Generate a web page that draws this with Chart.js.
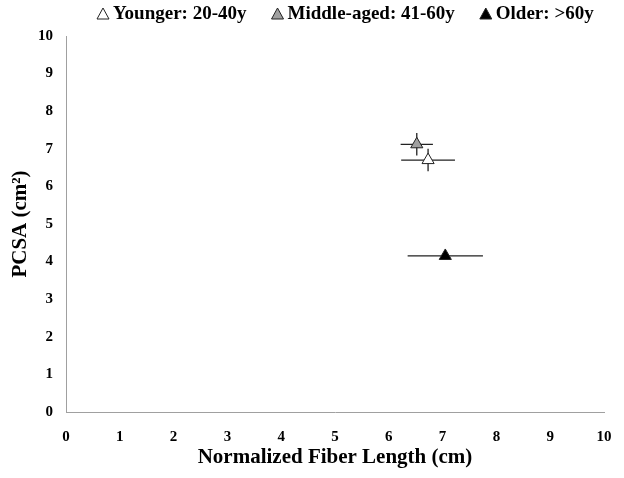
<!DOCTYPE html>
<html>
<head>
<meta charset="utf-8">
<script src="https://cdn.jsdelivr.net/npm/chart.js@4.4.0/dist/chart.umd.min.js"></script>
<style>
  html, body { margin: 0; padding: 0; background: #fff; }
  #wrap { width: 624px; height: 478px; position: relative; }
</style>
</head>
<body>
<div id="wrap"><canvas id="pcsaChart" width="624" height="478"></canvas></div>
<script>
// data
const groups = ['Younger: 20-40y', 'Middle-aged: 41-60y', 'Older: >60y'];
const fiberLength = [6.73, 6.52, 7.05];
const pcsa = [6.70, 7.12, 4.15];
const fiberErr = [0.50, 0.30, 0.70];
const pcsaErr = [0.30, 0.30, 0.08];
const fills = ['#ffffff', '#a0a0a0', '#000000'];
const axisTicks = [0, 1, 2, 3, 4, 5, 6, 7, 8, 9, 10];

const serif = '"Liberation Serif", "Times New Roman", serif';

// error bars drawn through the scales, behind the markers
const errorBars = {
    id: 'errorBars',
    beforeDatasetsDraw(chart) {
        const ctx = chart.ctx;
        const xs = chart.scales.x, ys = chart.scales.y;
        ctx.save();
        ctx.strokeStyle = '#222';
        ctx.lineWidth = 1.3;
        chart.data.datasets.forEach((ds, i) => {
            const p = ds.data[0];
            const cx = xs.getPixelForValue(p.x), cy = ys.getPixelForValue(p.y);
            ctx.beginPath();
            ctx.moveTo(xs.getPixelForValue(p.x - fiberErr[i]), cy);
            ctx.lineTo(xs.getPixelForValue(p.x + fiberErr[i]), cy);
            ctx.moveTo(cx, ys.getPixelForValue(p.y - pcsaErr[i]));
            ctx.lineTo(cx, ys.getPixelForValue(p.y + pcsaErr[i]));
            ctx.stroke();
        });
        ctx.restore();
    }
};

// compact legend row like the original: small triangle, tight gap to text
const groupLegend = {
    id: 'groupLegend',
    afterDraw(chart) {
        const ctx = chart.ctx;
        ctx.save();
        ctx.font = 'bold 19px ' + serif;
        ctx.textBaseline = 'middle';
        let x = 97;
        const y = 14;
        chart.data.datasets.forEach(ds => {
            ctx.fillStyle = ds.pointBackgroundColor;
            ctx.strokeStyle = '#222';
            ctx.lineWidth = 1;
            ctx.beginPath();
            ctx.moveTo(x + 6, y - 6);
            ctx.lineTo(x + 12, y + 5);
            ctx.lineTo(x, y + 5);
            ctx.closePath();
            ctx.fill();
            ctx.stroke();
            ctx.fillStyle = '#000';
            ctx.fillText(ds.label, x + 16, y);
            x += 16 + ctx.measureText(ds.label).width + 25;
        });
        ctx.restore();
    }
};

const ctx = document.getElementById('pcsaChart').getContext('2d');
new Chart(ctx, {
    type: 'scatter',
    data: {
        datasets: groups.map((g, i) => ({
            label: g,
            data: [{ x: fiberLength[i], y: pcsa[i] }],
            pointStyle: 'triangle',
            pointRadius: 7,
            pointBackgroundColor: fills[i],
            pointBorderColor: '#222',
            pointBorderWidth: 1,
            backgroundColor: fills[i],
            borderColor: '#222'
        }))
    },
    options: {
        responsive: false,
        animation: false,
        layout: { padding: { left: 0, right: 20, top: 36, bottom: 0 } },
        plugins: {
            legend: { display: false },
            tooltip: { enabled: false }
        },
        scales: {
            x: {
                type: 'linear',
                min: 0,
                max: 10,
                afterBuildTicks: s => { s.ticks = axisTicks.map(v => ({ value: v })); },
                afterFit: s => { s.height = 66; },
                grid: { display: false, drawTicks: true, tickLength: 5, color: '#a0a0a0' },
                border: { color: '#a0a0a0', width: 1 },
                ticks: { color: '#000', padding: 11, font: { family: serif, size: 15, weight: 'bold' } },
                title: {
                    display: true,
                    text: 'Normalized Fiber Length (cm)',
                    color: '#000',
                    padding: { top: 0, bottom: 8 },
                    font: { family: serif, size: 21, weight: 'bold' }
                }
            },
            y: {
                type: 'linear',
                min: 0,
                max: 10,
                afterBuildTicks: s => { s.ticks = axisTicks.map(v => ({ value: v })); },
                afterFit: s => { s.width = 66; },
                grid: { display: false, drawTicks: true, tickLength: 5, color: '#a0a0a0' },
                border: { color: '#a0a0a0', width: 1 },
                ticks: { color: '#000', padding: 8, font: { family: serif, size: 15, weight: 'bold' } },
                title: {
                    display: true,
                    text: 'PCSA (cm²)',
                    color: '#000',
                    padding: { top: 8, bottom: 0 },
                    font: { family: serif, size: 21, weight: 'bold' }
                }
            }
        }
    },
    plugins: [errorBars, groupLegend]
});
</script>
</body>
</html>
